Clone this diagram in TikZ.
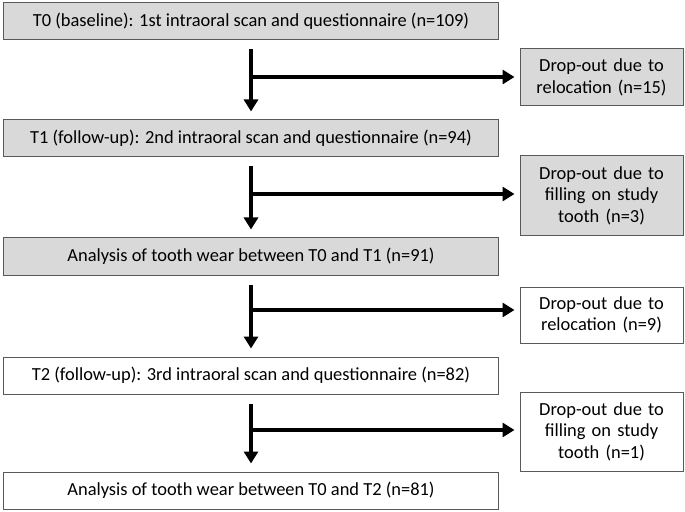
\documentclass[tikz,border=0pt]{standalone}
\usepackage{fontspec}
\setmainfont{Carlito}
\usetikzlibrary{arrows.meta}
\definecolor{boxgray}{HTML}{D9D9D9}
\definecolor{edgegray}{HTML}{595959}
\tikzset{
	mainbox/.style={draw=edgegray,line width=1bp,minimum width=494bp,minimum height=37bp,inner sep=0pt},
	dropbox/.style={draw=edgegray,line width=1bp,text width=163bp,align=center,inner sep=0pt},
	flow/.style={line width=4bp,-{Triangle[width=14bp,length=12bp]}},
}
\begin{document}
\begin{tikzpicture}[x=1bp,y=-1bp,font=\fontsize{18.5}{21.5}\selectfont]
		\useasboundingbox (0,0) rectangle (685,512);
		\foreach \i/\y/\c/\t in {0/21/boxgray/{T0 (baseline): 1st intraoral scan and questionnaire (n=109)},
			1/138.5/boxgray/{T1 (follow-up): 2nd intraoral scan and questionnaire (n=94)},
			2/256.5/boxgray/{Analysis of tooth wear between T0 and T1 (n=91)},
			3/375.5/white/{T2 (follow-up): 3rd intraoral scan and questionnaire (n=82)},
			4/490.5/white/{Analysis of tooth wear between T0 and T2 (n=81)}}
			\node[mainbox,fill=\c] (m\i) at (251,\y) {\t};
		\foreach \i/\y/\h/\c/\t in {0/77.5/57/boxgray/{Drop-out due to\\relocation (n=15)},
			1/195.5/79/boxgray/{Drop-out due to\\filling on study\\tooth (n=3)},
			2/315/56/white/{Drop-out due to\\relocation (n=9)},
			3/431.5/79/white/{Drop-out due to\\filling on study\\tooth (n=1)}}
			\node[dropbox,minimum height=\h bp,fill=\c] (d\i) at (601.5,\y) {\t};
		\foreach \i/\b in {0/77,1/194,2/310,3/430}{
			\pgfmathtruncatemacro{\j}{\i+1}
			\draw[flow,shorten <=9bp,shorten >=8bp] (m\i.south) -- (m\j.north);
			\coordinate (b\i) at (251,\b);
			\draw[flow,shorten >=5bp] (b\i) -- (b\i -| d\i.west);}
\end{tikzpicture}
\end{document}
